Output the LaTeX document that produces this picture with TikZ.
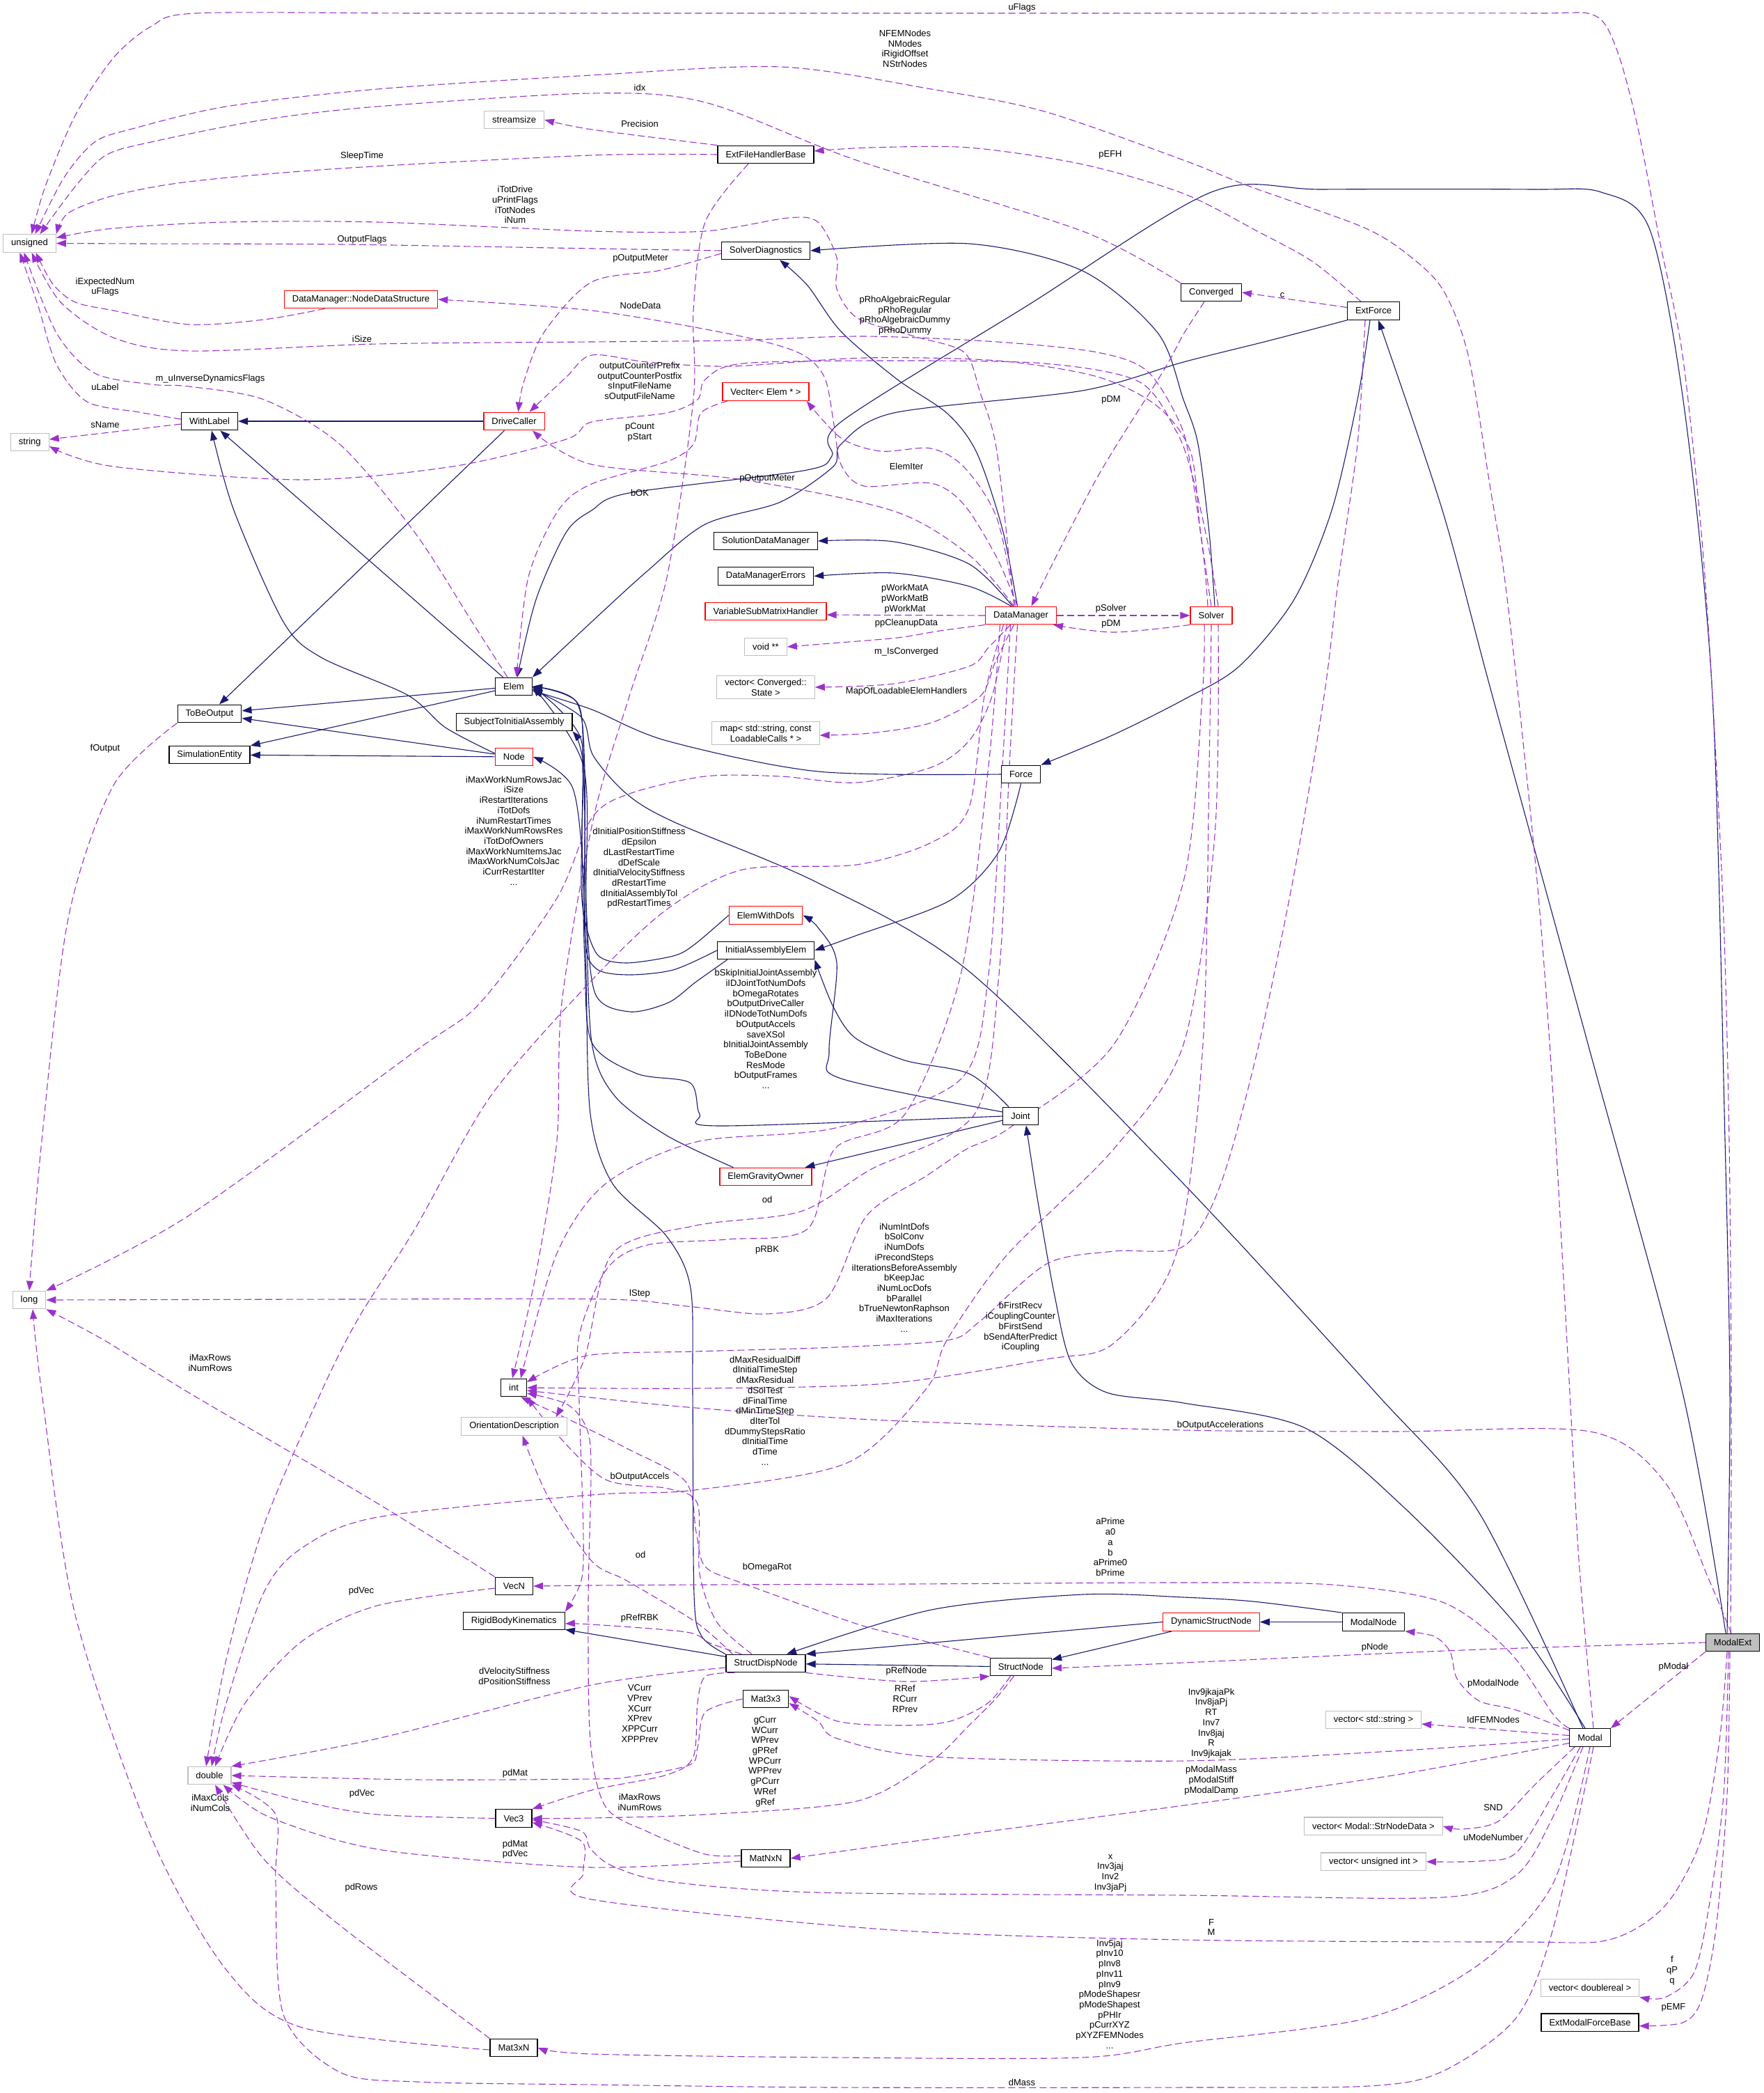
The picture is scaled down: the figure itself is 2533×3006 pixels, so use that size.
\documentclass[tikz,border=0pt]{standalone}
\usepackage{fontspec}
\setmainfont{Liberation Sans}
\usepackage{tikz}
\usetikzlibrary{arrows.meta}
\pgfdeclarelayer{edgelayer}
\pgfdeclarelayer{nodelayer}
\pgfsetlayers{edgelayer,nodelayer,main}
\definecolor{inhblue}{HTML}{191970}
\definecolor{depviolet}{HTML}{9A32CD}
\definecolor{extgray}{HTML}{BFBFBF}
\newcommand{\dgfont}{\fontsize{13pt}{14.7pt}\selectfont}
\tikzstyle{cls}=[draw=black, fill=white, line width=1.3pt, inner xsep=11.5pt, inner ysep=4pt, minimum height=25.5pt, align=center]
\tikzstyle{redcls}=[cls, draw=red]
\tikzstyle{extcls}=[cls, draw=extgray, line width=1.1pt]
\tikzstyle{selfcls}=[cls, fill=extgray]
\tikzstyle{elabel}=[inner sep=0pt, align=center]
\tikzstyle{inh}=[draw=inhblue, line width=1.1pt, -{Triangle[length=14pt,width=10pt]}]
\tikzstyle{dep}=[draw=depviolet, line width=1.1pt, dash pattern=on 10pt off 5pt, -{Triangle[length=14pt,width=10pt]}]

\begin{document}
\begin{tikzpicture}[x=1pt, y=-1pt, font=\dgfont]
	\useasboundingbox (0,0) rectangle (2533,3006);
	\begin{pgfonlayer}{nodelayer}
		% classes
		\node [style=extcls] (unsigned) at (42.5, 349.5) {unsigned};
		\node [style=extcls] (streamsize) at (738.6, 172) {streamsize};
		\node [style=redcls] (NDS) at (518.5, 430) {DataManager::NodeDataStructure};
		\node [style=cls] (WithLabel) at (301, 605) {WithLabel};
		\node [style=extcls] (string) at (42.8, 635) {string};
		\node [style=redcls] (DriveCaller) at (738.5, 605) {DriveCaller};
		\node [style=cls] (Elem) at (738, 986) {Elem};
		\node [style=cls] (EFHB) at (1100, 222) {ExtFileHandlerBase};
		\node [style=cls] (SolverDiag) at (1100, 360) {SolverDiagnostics};
		\node [style=redcls] (VecIter) at (1100, 562.5) {VecIter< Elem * >};
		\node [style=cls] (SolDM) at (1100, 777) {SolutionDataManager};
		\node [style=cls] (DMErr) at (1100, 827.5) {DataManagerErrors};
		\node [style=redcls] (VSMH) at (1100, 878) {VariableSubMatrixHandler};
		\node [style=extcls] (voidpp) at (1100, 929) {void **};
		\node [style=extcls] (vecConv) at (1100, 987) {vector< Converged::\\State >};
		\node [style=extcls] (mapLoad) at (1100, 1053) {map< std::string, const\\LoadableCalls * >};
		\node [style=redcls] (DataManager) at (1466.5, 884) {DataManager};
		\node [style=cls] (Converged) at (1740, 420) {Converged};
		\node [style=cls] (ExtForce) at (1973, 446.5) {ExtForce};
		\node [style=redcls] (Solver) at (1740, 884) {Solver};
		\node [style=cls] (ToBeOutput) at (301, 1025) {ToBeOutput};
		\node [style=cls] (SimEnt) at (301, 1084) {SimulationEntity};
		\node [style=cls] (STIA) at (738.6, 1037) {SubjectToInitialAssembly};
		\node [style=redcls] (Node) at (738.4, 1087) {Node};
		\node [style=extcls] (long) at (42, 1867) {long};
		\node [style=cls] (int) at (738, 1993) {int};
		\node [style=cls] (Force) at (1466.6, 1112) {Force};
		\node [style=redcls] (EWD) at (1100, 1314.5) {ElemWithDofs};
		\node [style=cls] (IAE) at (1100, 1365) {InitialAssemblyElem};
		\node [style=cls] (Joint) at (1466, 1603) {Joint};
		\node [style=redcls] (EGO) at (1100, 1690) {ElemGravityOwner};
		\node [style=extcls] (OD) at (738.6, 2048.6) {OrientationDescription};
		\node [style=cls] (VecN) at (738.4, 2278) {VecN};
		\node [style=cls] (RBK) at (738.3, 2328) {RigidBodyKinematics};
		\node [style=extcls] (double) at (301, 2550) {double};
		\node [style=cls] (Vec3) at (738, 2611.5) {Vec3};
		\node [style=cls] (Mat3xN) at (738, 2941) {Mat3xN};
		\node [style=cls] (SDN) at (1100, 2389) {StructDispNode};
		\node [style=cls] (StructNode) at (1466.4, 2394) {StructNode};
		\node [style=cls] (Mat3x3) at (1100, 2440) {Mat3x3};
		\node [style=cls] (MatNxN) at (1100, 2669) {MatNxN};
		\node [style=redcls] (DSN) at (1740, 2329.5) {DynamicStructNode};
		\node [style=cls] (ModalNode) at (1973, 2329.5) {ModalNode};
		\node [style=selfcls] (ModalExt) at (2489, 2359) {ModalExt};
		\node [style=cls] (Modal) at (2284, 2495.5) {Modal};
		\node [style=extcls] (vecStr) at (1973, 2470) {vector< std::string >};
		\node [style=extcls] (vecSND) at (1973, 2622.7) {vector< Modal::StrNodeData >};
		\node [style=extcls] (vecUInt) at (1973, 2673.7) {vector< unsigned int >};
		\node [style=extcls] (vecDbl) at (2284, 2855) {vector< doublereal >};
		\node [style=cls] (EMFB) at (2284, 2904.6) {ExtModalForceBase};
		% member labels
		\node [style=elabel] (lUFlags) at (1468, 11) {uFlags};
		\node [style=elabel] (lNFEM) at (1300, 70) {NFEMNodes\\NModes\\iRigidOffset\\NStrNodes};
		\node [style=elabel] (lIdx) at (919, 126) {idx};
		\node [style=elabel] (lPrec) at (919, 178) {Precision};
		\node [style=elabel] (lSleep) at (520, 224) {SleepTime};
		\node [style=elabel] (lPEFH) at (1595, 222) {pEFH};
		\node [style=elabel] (lITot) at (740, 294) {iTotDrive\\uPrintFlags\\iTotNodes\\iNum};
		\node [style=elabel] (lOutFlags) at (520, 344) {OutputFlags};
		\node [style=elabel] (lPOM1) at (920, 371) {pOutputMeter};
		\node [style=elabel] (lIExp) at (151, 412) {iExpectedNum\\uFlags};
		\node [style=elabel] (lC) at (1842, 424) {c};
		\node [style=elabel] (lNodeData) at (920, 439) {NodeData};
		\node [style=elabel] (lPRho) at (1300, 453) {pRhoAlgebraicRegular\\pRhoRegular\\pRhoAlgebraicDummy\\pRhoDummy};
		\node [style=elabel] (lISize) at (520, 487) {iSize};
		\node [style=elabel] (lMInv) at (302, 544) {m\_uInverseDynamicsFlags};
		\node [style=elabel] (lOCP) at (919, 548) {outputCounterPrefix\\outputCounterPostfix\\sInputFileName\\sOutputFileName};
		\node [style=elabel] (lULabel) at (151, 556) {uLabel};
		\node [style=elabel] (lPDM1) at (1596, 574) {pDM};
		\node [style=elabel] (lSName) at (151, 610) {sName};
		\node [style=elabel] (lPCount) at (919, 621) {pCount\\pStart};
		\node [style=elabel] (lElemIter) at (1302, 670) {ElemIter};
		\node [style=elabel] (lPOM2) at (1102, 687) {pOutputMeter};
		\node [style=elabel] (lBOK) at (919, 708) {bOK};
		\node [style=elabel] (lPWork) at (1300, 860) {pWorkMatA\\pWorkMatB\\pWorkMat};
		\node [style=elabel] (lPSolver) at (1596, 874) {pSolver};
		\node [style=elabel] (lPPClean) at (1302, 895) {ppCleanupData};
		\node [style=elabel] (lPDM2) at (1596, 896) {pDM};
		\node [style=elabel] (lIsConv) at (1302, 936) {m\_IsConverged};
		\node [style=elabel] (lMapLoad) at (1302, 993) {MapOfLoadableElemHandlers};
		\node [style=elabel] (lFOut) at (151, 1075) {fOutput};
		\node [style=elabel] (lIMaxWork) at (738, 1193) {iMaxWorkNumRowsJac\\iSize\\iRestartIterations\\iTotDofs\\iNumRestartTimes\\iMaxWorkNumRowsRes\\iTotDofOwners\\iMaxWorkNumItemsJac\\iMaxWorkNumColsJac\\iCurrRestartIter\\...};
		\node [style=elabel] (lDInit) at (918, 1247) {dInitialPositionStiffness\\dEpsilon\\dLastRestartTime\\dDefScale\\dInitialVelocityStiffness\\dRestartTime\\dInitialAssemblyTol\\pdRestartTimes};
		\node [style=elabel] (lBSkip) at (1100, 1478) {bSkipInitialJointAssembly\\iIDJointTotNumDofs\\bOmegaRotates\\bOutputDriveCaller\\iIDNodeTotNumDofs\\bOutputAccels\\saveXSol\\bInitialJointAssembly\\ToBeDone\\ResMode\\bOutputFrames\\...};
		\node [style=elabel] (lOD1) at (1102, 1723) {od};
		\node [style=elabel] (lPRBK) at (1102, 1795) {pRBK};
		\node [style=elabel] (lINumInt) at (1299, 1835) {iNumIntDofs\\bSolConv\\iNumDofs\\iPrecondSteps\\iIterationsBeforeAssembly\\bKeepJac\\iNumLocDofs\\bParallel\\bTrueNewtonRaphson\\iMaxIterations\\...};
		\node [style=elabel] (lLStep) at (919, 1858) {lStep};
		\node [style=elabel] (lBFirst) at (1466, 1906) {bFirstRecv\\iCouplingCounter\\bFirstSend\\bSendAfterPredict\\iCoupling};
		\node [style=elabel] (lIMaxRows1) at (302, 1957) {iMaxRows\\iNumRows};
		\node [style=elabel] (lDMaxRes) at (1099, 2026) {dMaxResidualDiff\\dInitialTimeStep\\dMaxResidual\\dSolTest\\dFinalTime\\dMinTimeStep\\dIterTol\\dDummyStepsRatio\\dInitialTime\\dTime\\...};
		\node [style=elabel] (lBOutAcc) at (1753, 2047) {bOutputAccelerations};
		\node [style=elabel] (lBOutAccels) at (919, 2121) {bOutputAccels};
		\node [style=elabel] (lAPrime) at (1595, 2222) {aPrime\\a0\\a\\b\\aPrime0\\bPrime};
		\node [style=elabel] (lOD2) at (920, 2233) {od};
		\node [style=elabel] (lBOmega) at (1102, 2251) {bOmegaRot};
		\node [style=elabel] (lPdVec1) at (519, 2285) {pdVec};
		\node [style=elabel] (lPRefRBK) at (919, 2324) {pRefRBK};
		\node [style=elabel] (lPNode) at (1975, 2366) {pNode};
		\node [style=elabel] (lPModal) at (2404, 2394) {pModal};
		\node [style=elabel] (lPRefNode) at (1302, 2400) {pRefNode};
		\node [style=elabel] (lDVel) at (739, 2407) {dVelocityStiffness\\dPositionStiffness};
		\node [style=elabel] (lPModalNode) at (2145, 2418) {pModalNode};
		\node [style=elabel] (lRRef) at (1300, 2440) {RRef\\RCurr\\RPrev};
		\node [style=elabel] (lVCurr) at (919, 2461) {VCurr\\VPrev\\XCurr\\XPrev\\XPPCurr\\XPPPrev};
		\node [style=elabel] (lIdFEM) at (2145, 2470) {IdFEMNodes};
		\node [style=elabel] (lInv9) at (1740, 2475) {Inv9jkajaPk\\Inv8jaPj\\RT\\Inv7\\Inv8jaj\\R\\Inv9jkajak};
		\node [style=elabel] (lGCurr) at (1099, 2530) {gCurr\\WCurr\\WPrev\\gPRef\\WPCurr\\WPPrev\\gPCurr\\WRef\\gRef};
		\node [style=elabel] (lPdMat1) at (740, 2547) {pdMat};
		\node [style=elabel] (lPModalMass) at (1740, 2557) {pModalMass\\pModalStiff\\pModalDamp};
		\node [style=elabel] (lPdVec2) at (520, 2576) {pdVec};
		\node [style=elabel] (lIMaxCols) at (302, 2589) {iMaxCols\\iNumCols};
		\node [style=elabel] (lIMaxRows2) at (919, 2588) {iMaxRows\\iNumRows};
		\node [style=elabel] (lSND) at (2145, 2596) {SND};
		\node [style=elabel] (lUMode) at (2145, 2639) {uModeNumber};
		\node [style=elabel] (lPdMatVec) at (740, 2656) {pdMat\\pdVec};
		\node [style=elabel] (lXInv) at (1595, 2690) {x\\Inv3jaj\\Inv2\\Inv3jaPj};
		\node [style=elabel] (lPdRows) at (519, 2711) {pdRows};
		\node [style=elabel] (lFM) at (1740, 2768) {F\\M};
		\node [style=elabel] (lFQP) at (2402, 2830) {f\\qP\\q};
		\node [style=elabel] (lInv5) at (1594, 2864) {Inv5jaj\\pInv10\\pInv8\\pInv11\\pInv9\\pModeShapesr\\pModeShapest\\pPHIr\\pCurrXYZ\\pXYZFEMNodes\\...};
		\node [style=elabel] (lPEMF) at (2404, 2883) {pEMF};
		\node [style=elabel] (lDMass) at (1468, 2991) {dMass};
	\end{pgfonlayer}
	\begin{pgfonlayer}{edgelayer}
		% inheritance
		\draw [style=inh] (DriveCaller) -- (WithLabel);
		\draw [style=inh] (DriveCaller) -- (ToBeOutput);
		\draw [style=inh] (Elem) -- (WithLabel);
		\draw [style=inh] plot [smooth] coordinates {([yshift=5pt]Node.west) (640,1045) (585,998) (461,944) (407,893) (336,733) ([xshift=3pt]WithLabel.south)};
		\draw [style=inh] (Elem) -- (ToBeOutput);
		\draw [style=inh] (Elem) -- (SimEnt);
		\draw [style=inh] (Node) -- (ToBeOutput);
		\draw [style=inh] (Node) -- (SimEnt);
		\draw [style=inh] plot [smooth] coordinates {(SDN.north west) (1008,2350) (997,2290) (995,2000) (992,1850) (958,1776) (880,1700) (848,1600) (842,1400) (838,1255) (822,1130) (Node.east)};
		\draw [style=inh] (SDN) -- (RBK);
		\draw [style=inh] (StructNode) -- (SDN);
		\draw [style=inh] (DSN) -- (StructNode);
		\draw [style=inh] (DSN.west) -- (SDN.north east);
		\draw [style=inh] (ModalNode) -- (DSN);
		\draw [style=inh] plot [smooth] coordinates {(ModalNode.north west) (1800,2300) (1700,2294) (1555,2290) (1338,2312) ([xshift=30pt]SDN.north)};
		\draw [style=inh] plot [smooth] coordinates {([xshift=-7pt]Modal.north) (2178,2334) (2019,2167) (1875,2051) (1700,2015) (1590,2000) (1539,1957) (1515,1861) (1490,1720) ([xshift=8pt]Joint.south)};
		\draw [style=inh] plot [smooth] coordinates {([xshift=-10pt]Modal.north) (2125,2173) (1976,2000) (1700,1700) (1392,1395) (1175,1268) (967,1180) (900,1140) (852,1085) (835,1030) ([yshift=-4pt]Elem.east)};
		\draw [style=inh] plot [smooth] coordinates {([xshift=-8pt]ModalExt.north) (2485,2000) (2478,1638) (2460,1000) (2420,590) (2370,330) (2300,276) (2200,272) (1900,272) (1740,276) (1474,440) (1208,606) (1195,655) (1154,676) (904,708) (850,733) (813,765) (770,861) ([xshift=5pt]Elem.north)};
		\draw [style=inh] plot [smooth] coordinates {(ExtForce.south west) (1820,490) (1700,520) (1555,561) (1284,593) (1208,638) (1197,670) (1121,721) (1013,753) (930,820) (850,893) (Elem.north east)};
		\draw [style=inh] plot [smooth] coordinates {([xshift=-5pt]ExtForce.south) (1950,574) (1913,733) (1859,861) (1780,957) (1700,1005) (1600,1055) (Force.north east)};
		\draw [style=inh] plot [smooth] coordinates {([xshift=-10pt]ModalExt.north) (2417,2000) (2284,1510) (2144,1000) (2072,733) ([xshift=7pt]ExtForce.south)};
		\draw [style=inh] plot [smooth] coordinates {(Force.west) (1175,1108) (958,1064) (850,1019) ([yshift=-6pt]Elem.east)};
		\draw [style=inh] plot [smooth] coordinates {(Force.south) (1435,1223) (1365,1293) (1229,1344) (IAE.east)};
		\draw [style=inh] plot [smooth] coordinates {([yshift=6pt]Joint.west) (1208,1549) (1191,1510) (1202,1383) (1175,1332) (EWD.east)};
		\draw [style=inh] plot [smooth] coordinates {([xshift=-17pt]Joint.north) (1392,1542) (1300,1523) (1229,1491) (1197,1446) (IAE.south east)};
		\draw [style=inh] (Joint) -- (EGO);
		\draw [style=inh] plot [smooth] coordinates {(Joint.west) (1034,1617) (1005,1600) (991,1555) (915,1542) (850,1497) (840,1380) (836,1200) (834,1060) (Elem.east)};
		\draw [style=inh] plot [smooth] coordinates {(EWD.west) (997,1357) (967,1373) (900,1383) (860,1373) (842,1330) (835,1270) (837,1107) (830,1010) (Elem.east)};
		\draw [style=inh] plot [smooth] coordinates {(IAE.west) (967,1393) (900,1400) (855,1390) (840,1340) (840,1107) (828,1008) (Elem.east)};
		\draw [style=inh] plot [smooth] coordinates {([xshift=15pt]IAE.south west) (1000,1410) (960,1440) (904,1453) (855,1427) (842,1300) (838,1100) (STIA.south east)};
		\draw [style=inh] plot [smooth] coordinates {([xshift=20pt]EGO.north west) (958,1631) (883,1574) (850,1497) (842,1300) (838,1100) (Elem.east)};
		\draw [style=inh] plot [smooth] coordinates {([xshift=5pt]Solver.north) (1737,765) (1721,638) (1700,574) (1663,478) (1555,389) (1392,350) (SolverDiag.east)};
		\draw [style=inh] plot [smooth] coordinates {([xshift=-5pt]DataManager.north) (1440,760) (1403,650) (1361,594) (1289,545) (1208,476) (1160,410) ([xshift=20pt]SolverDiag.south)};
		\draw [style=inh] plot [smooth] coordinates {([xshift=-12pt]DataManager.north) (1392,810) (1284,778) (SolDM.east)};
		\draw [style=inh] plot [smooth] coordinates {([xshift=-14pt]DataManager.north) (1392,842) (1284,823) (DMErr.east)};
		% usage
		\draw [style=dep] plot [smooth] coordinates {([xshift=-3pt]ModalExt.north) (2487,2006) (2484,1640) (2476,1320) (2460,1000) (2444,765) (2417,510) (2385,350) (2352,180) (2322,70) (2290,22) (2200,19) (1800,19) (1400,19) (1000,19) (600,19) (282,19) (217,38) (163,83) (108,166) (65,268) ([xshift=3pt]unsigned.north)};
		\draw [style=dep] plot [smooth] coordinates {([xshift=5pt]Modal.north) (2268,2240) (2255,2000) (2231,1574) (2210,1287) (2181,1000) (2160,820) (2141,702) (2109,510) (2072,415) (2019,363) (1955,325) (1796,268) (1700,230) (1500,160) (1338,128) (1121,96) (850,108) (542,128) (325,153) (190,185) (136,204) (92,255) ([xshift=8pt]unsigned.north)};
		\draw [style=dep] plot [smooth] coordinates {(Converged.north west) (1555,332) (1230,230) (1013,147) (850,134) (542,153) (379,172) (217,204) (152,223) (108,268) ([xshift=15pt]unsigned.north)};
		\draw [style=dep] plot [smooth] coordinates {(EFHB.north west) (850,186) (streamsize.east)};
		\draw [style=dep] plot [smooth] coordinates {(EFHB.west) (850,223) (488,242) (271,261) (163,281) (98,306) (unsigned.north east)};
		\draw [style=dep] plot [smooth] coordinates {([xshift=-10pt]DataManager.north) (1432,648) (1408,564) (1385,506) (1313,483) (1232,457) (1202,415) (1202,370) (1175,319) (1132,313) (1013,332) (850,332) (542,319) (325,319) (163,328) ([yshift=8pt]unsigned.east)};
		\draw [style=dep] plot [smooth] coordinates {(SolverDiag.west) (850,357) (488,351) (200,350) (unsigned.east)};
		\draw [style=dep] plot [smooth] coordinates {([yshift=-4pt]SolverDiag.west) (950,388) (850,405) (781,478) (752,550) ([xshift=6pt]DriveCaller.north)};
		\draw [style=dep] plot [smooth] coordinates {([xshift=-5pt]DataManager.north) (1432,801) (1385,725) (1337,694) (1241,698) (1208,667) (1198,610) (1184,541) (1146,506) (1050,480) (850,446) (NDS.east)};
		\draw [style=dep] plot [smooth] coordinates {([xshift=-5pt]Solver.north) (1729,800) (1712,680) (1696,610) (1648,533) (1576,506) (1433,491) (1241,483) (1050,489) (850,491) (542,494) (271,504) (163,485) (87,434) ([xshift=3pt]unsigned.south)};
		\draw [style=dep] plot [smooth] coordinates {(Solver.north) (1724,760) (1710,648) (1662,583) (1576,541) (1433,518) (1241,514) (1050,526) (930,520) (850,510) (813,542) ([xshift=22pt]DriveCaller.north)};
		\draw [style=dep] plot [smooth] coordinates {([xshift=10pt]Solver.north) (1735,780) (1712,680) (1690,620) (1636,548) (1500,522) (1284,518) (1067,522) (1013,545) (1002,574) (958,593) (850,606) (813,631) (650,670) (434,689) (163,670) ([yshift=-6pt]string.east)};
		\draw [style=dep] plot [smooth] coordinates {([xshift=-9pt]Elem.north) (678,893) (596,765) (488,638) (379,574) (271,555) (217,552) (136,536) (81,478) ([xshift=-8pt]unsigned.south)};
		\draw [style=dep] plot [smooth] coordinates {([yshift=3pt]WithLabel.west) (200,592) (125,577) (81,523) (55,440) ([xshift=-14pt]unsigned.south)};
		\draw [style=dep] ([yshift=-4pt]WithLabel.west) -- ([yshift=4pt]string.east);
		\draw [style=dep] plot [smooth] coordinates {([xshift=-52pt]NDS.south) (379,459) (271,466) (163,446) (108,434) (76,408) ([xshift=9pt]unsigned.south)};
		\draw [style=dep] plot [smooth] coordinates {([xshift=8pt]VecIter.south west) (1007,593) (996,638) (958,663) (850,695) (802,733) (759,829) ([xshift=4pt]Elem.north)};
		\draw [style=dep] plot [smooth] coordinates {([xshift=-10pt]DataManager.north) (1392,797) (1284,734) (1067,689) (850,667) ([xshift=-18pt]DriveCaller.south east)};
		\draw [style=dep] plot [smooth] coordinates {([xshift=-8pt]DataManager.north) (1432,744) (1385,671) (1337,644) (1265,648) (1208,629) ([xshift=-4pt]VecIter.south east)};
		\draw [style=dep] (DataManager.west) -- ([yshift=-5pt]VSMH.east);
		\draw [style=dep] plot [smooth] coordinates {(DataManager.south west) (1350,906) (1289,916) (1193,924) (voidpp.east)};
		\draw [style=dep] plot [smooth] coordinates {([xshift=-15pt]DataManager.south) (1420,930) (1392,957) (1284,982) (vecConv.east)};
		\draw [style=dep] plot [smooth] coordinates {([xshift=-10pt]DataManager.south) (1430,950) (1408,1000) (1338,1038) (1250,1053) ([yshift=-3pt]mapLoad.east)};
		\draw [style=dep] (DataManager) -- (Solver);
		\draw [style=dep] plot [smooth] coordinates {(Solver.south west) (1600,908) ([xshift=-5pt]DataManager.south east)};
		\draw [style=dep] plot [smooth] coordinates {([xshift=-10pt]Converged.south) (1700,480) (1671,533) (1576,686) ([xshift=15pt]DataManager.north)};
		\draw [style=dep] ([yshift=5pt]ExtForce.west) -- (Converged.east);
		\draw [style=dep] plot [smooth] coordinates {([xshift=-18pt]ExtForce.north) (1886,376) (1806,332) (1700,278) (1555,236) (1392,212) (1250,212) ([yshift=5pt]EFHB.east)};
		\draw [style=dep] plot [smooth] coordinates {([xshift=-12pt]ExtForce.south) (1950,638) (1923,829) (1902,1000) (1859,1255) (1806,1510) (1753,1702) (1700,1790) (1600,1797) (1504,1815) (1406,1899) (1360,1925) (1200,1935) (998,1941) (843,1947) ([yshift=8pt]int.east)};
		\draw [style=dep] plot [smooth] coordinates {([xshift=-2pt]ModalExt.north) (2455,2269) (2391,2128) (2284,2056) (2000,2056) (1700,2054) (1274,2040) (987,2021) ([yshift=-4pt]int.east)};
		\draw [style=dep] plot [smooth] coordinates {(ModalExt.west) (2100,2370) (1700,2388) ([yshift=-2pt]StructNode.east)};
		\draw [style=dep] (ModalExt.south west) -- (Modal.north east);
		\draw [style=dep] plot [smooth] coordinates {([xshift=-6pt]ModalExt.south) (2476,2577) (2455,2738) (2433,2834) (2391,2869) (vecDbl.south east)};
		\draw [style=dep] plot [smooth] coordinates {([xshift=-4pt]ModalExt.south) (2481,2577) (2465,2770) (2444,2873) (2417,2905) ([yshift=-5pt]EMFB.east)};
		\draw [style=dep] plot [smooth] coordinates {([xshift=-8pt]ModalExt.south) (2470,2500) (2444,2641) (2391,2738) (2311,2786) (2178,2789) (1700,2786) (1284,2772) (850,2728) (838,2690) (836,2645) ([yshift=-6pt]Vec3.east)};
		\draw [style=dep] plot [smooth] coordinates {([xshift=-10pt]Modal.south) (2231,2609) (2178,2693) (2072,2725) (1700,2722) (1175,2718) (958,2702) (880,2680) (848,2655) (835,2630) ([yshift=-2pt]Vec3.east)};
		\draw [style=dep] plot [smooth] coordinates {(Modal.south) (2231,2705) (2125,2821) (1966,2898) (1700,2934) (1555,2955) (1200,2955) (850,2950) (Mat3xN.east)};
		\draw [style=dep] plot [smooth] coordinates {([xshift=5pt]Modal.south) (2231,2770) (2178,2898) (2072,2975) (1966,2996) (1700,2998) (1200,2998) (850,2994) (600,2990) (488,2976) (407,2893) (396,2702) (396,2606) (double.south east)};
		\draw [style=dep] plot [smooth] coordinates {(Modal.north west) (2231,2462) (2168,2372) (2072,2301) (1913,2276) (1700,2273) (1300,2275) (1013,2276) (850,2277) (VecN.east)};
		\draw [style=dep] plot [smooth] coordinates {([yshift=-3pt]Modal.north west) (2178,2456) (2125,2443) (2093,2411) (2083,2372) (2060,2350) (ModalNode.south east)};
		\draw [style=dep] ([yshift=3pt]Modal.west) -- ([yshift=-6pt]vecStr.east);
		\draw [style=dep] plot [smooth] coordinates {([yshift=-2pt]Modal.west) (2000,2515) (1700,2529) (1338,2523) (1203,2497) (1175,2472) ([yshift=-6pt]Mat3x3.east)};
		\draw [style=dep] plot [smooth] coordinates {([yshift=-8pt]Modal.west) (2000,2550) (1700,2593) (1338,2641) (MatNxN.east)};
		\draw [style=dep] plot [smooth] coordinates {([xshift=8pt]Modal.south west) (2205,2563) (2152,2616) (2100,2627) (vecSND.east)};
		\draw [style=dep] plot [smooth] coordinates {([xshift=16pt]Modal.south west) (2231,2577) (2178,2661) (2125,2673) (vecUInt.east)};
		\draw [style=dep] plot [smooth] coordinates {([xshift=-10pt]StructNode.south) (1430,2440) (1392,2478) (1338,2529) (1230,2587) (1013,2606) (850,2611) (Vec3.east)};
		\draw [style=dep] plot [smooth] coordinates {([xshift=-15pt]StructNode.south) (1419,2446) (1365,2472) (1300,2478) (1203,2472) ([yshift=4pt]Mat3x3.east)};
		\draw [style=dep] plot [smooth] coordinates {(SDN.south east) (1300,2415) (StructNode.south west)};
		\draw [style=dep] plot [smooth] coordinates {(StructNode.north west) (1300,2350) (1230,2332) (1067,2274) (1013,2250) (1000,2200) (985,2128) (900,2080) (820,2040) ([xshift=10pt]int.south)};
		\draw [style=dep] plot [smooth] coordinates {([xshift=-45pt]SDN.south) (1013,2408) (1002,2446) (996,2523) (958,2549) (850,2571) (Vec3.north east)};
		\draw [style=dep] plot [smooth] coordinates {([yshift=-6pt]SDN.west) (850,2420) (542,2497) (double.north east)};
		\draw [style=dep] plot [smooth] coordinates {([xshift=-35pt]SDN.north) (1020,2360) (986,2344) (850,2333) ([yshift=-4pt]RBK.east)};
		\draw [style=dep] plot [smooth] coordinates {([xshift=10pt]SDN.north west) (1000,2330) (900,2270) (850,2242) (786,2147) ([xshift=12pt]OD.south)};
		\draw [style=dep] plot [smooth] coordinates {([xshift=-20pt]SDN.north) (1030,2330) (1005,2260) (1002,2160) (960,2138) (870,2125) (800,2060) (int.south east)};
		\draw [style=dep] plot [smooth] coordinates {(Mat3x3.west) (1013,2459) (1002,2510) (990,2535) (904,2552) (850,2555) (600,2556) (double.east)};
		\draw [style=dep] plot [smooth] coordinates {(Vec3.west) (542,2606) (434,2587) ([yshift=-10pt]double.east)};
		\draw [style=dep] plot [smooth] coordinates {([yshift=-4pt]MatNxN.west) (850,2682) (596,2663) (488,2644) (379,2606) ([xshift=-12pt]double.south east)};
		\draw [style=dep] plot [smooth] coordinates {([yshift=4pt]MatNxN.west) (1013,2663) (931,2631) (870,2595) (848,2500) (845,2300) (849,2110) (843,2052) (815,2017) ([yshift=-8pt]int.east)};
		\draw [style=dep] plot [smooth] coordinates {(VecN.north west) (542,2159) (271,2000) (150,1925) (long.south east)};
		\draw [style=dep] plot [smooth] coordinates {([yshift=-3pt]VecN.west) (542,2306) (434,2357) (352,2446) ([xshift=8pt]double.north)};
		\draw [style=dep] plot [smooth] coordinates {([yshift=-3pt]Mat3xN.west) (434,2912) (325,2829) (217,2638) (108,2319) (60,2000) ([xshift=5pt]long.south)};
		\draw [style=dep] plot [smooth] coordinates {(Mat3xN.north west) (488,2765) (379,2670) ([xshift=8pt]double.south)};
		\draw [style=dep] plot [smooth] coordinates {(ToBeOutput.south west) (163,1128) (98,1319) (60,1638) (long.north)};
		\draw [style=dep] plot [smooth] coordinates {([xshift=-20pt]DataManager.south) (1425,1000) (1392,1064) (1338,1102) (1230,1124) (1121,1115) (1013,1115) (904,1140) (850,1175) (800,1290) (690,1440) (596,1510) (271,1746) (long.north east)};
		\draw [style=dep] plot [smooth] coordinates {([xshift=-25pt]DataManager.south) (1414,1000) (1392,1160) (1338,1210) (1230,1242) (1067,1249) (958,1306) (850,1408) (705,1574) (596,1765) (515,1893) (461,2000) (379,2191) (325,2383) ([xshift=-5pt]double.north)};
		\draw [style=dep] plot [smooth] coordinates {([xshift=-15pt]DataManager.south) (1440,1100) (1420,1400) (1380,1550) (1200,1620) (1000,1640) (870,1700) (800,1800) ([xshift=10pt]int.north)};
		\draw [style=dep] plot [smooth] coordinates {([xshift=-5pt]DataManager.south) (1450,1100) (1435,1400) (1400,1600) (1250,1680) (1150,1740) (1000,1760) (880,1800) (840,1950) ([xshift=60pt]OD.north)};
		\draw [style=dep] plot [smooth] coordinates {([xshift=-30pt]DataManager.south) (1420,1100) (1380,1400) (1300,1600) (1199,1650) (1160,1765) (1044,1780) (930,1788) (872,1822) (832,1918) (832,2013) (838,2200) (835,2270) (RBK.north east)};
		\draw [style=dep] plot [smooth] coordinates {([xshift=-10pt]Solver.south) (1727,1000) (1700,1266) (1600,1500) (1450,1620) (1389,1650) (1332,1688) (1245,1746) (1188,1864) (1102,1887) (987,1876) (872,1866) (500,1866) (long.east)};
		\draw [style=dep] plot [smooth] coordinates {(Solver.south) (1737,1100) (1728,1500) (1690,1800) (1600,1929) (1504,1952) (1274,1987) (998,1994) (int.east)};
		\draw [style=dep] plot [smooth] coordinates {([xshift=10pt]Solver.south) (1745,1200) (1700,1500) (1600,1650) (1446,1803) (1360,1925) (1331,1994) (1217,2101) (998,2140) (850,2147) (542,2179) (434,2223) (379,2287) (325,2446) ([xshift=3pt]double.north)};
		\draw [style=dep] plot [smooth] coordinates {([xshift=-25pt]EFHB.south) (1013,319) (996,446) (996,574) (958,829) (904,1000) (853,1173) (807,1440) (800,1638) (770,1829) ([xshift=-2pt]int.north)};
	\end{pgfonlayer}
\end{tikzpicture}
\end{document}
